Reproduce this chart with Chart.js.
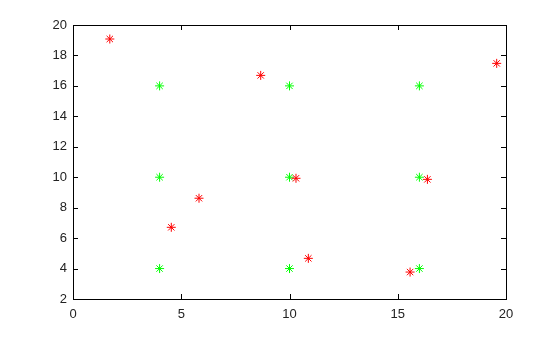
<!DOCTYPE html>
<html>
<head>
<meta charset="utf-8">
<script src="https://cdn.jsdelivr.net/npm/chart.js@4.4.1/dist/chart.umd.min.js"></script>
<style>
  html, body { margin: 0; padding: 0; background: #fff; }
  #wrap { width: 560px; height: 337px; }
</style>
</head>
<body>
<div id="wrap"><canvas id="chart" width="560" height="337"></canvas></div>
<script>
// Red points
const redX = [1.7, 8.67, 19.57, 5.82, 4.54, 10.3, 16.37, 10.87, 15.57];
const redY = [19.08, 16.69, 17.48, 8.62, 6.71, 9.93, 9.86, 4.67, 3.77];

// Green grid points
const greenX = [4, 4, 4, 10, 10, 10, 16, 16, 16];
const greenY = [4, 10, 16, 4, 10, 16, 4, 10, 16];

const xTicks = [0, 5, 10, 15, 20];
const yTicks = [2, 4, 6, 8, 10, 12, 14, 16, 18, 20];

const toPoints = (xs, ys) => xs.map((x, i) => ({ x: x, y: ys[i] }));

// Box round the plot with short inward ticks on all four sides
const framePlugin = {
    id: 'frame',
    afterDatasetsDraw(chart) {
        const ctx = chart.ctx;
        const a = chart.chartArea;
        const xs = chart.scales.x;
        const ys = chart.scales.y;
        const len = 5;
        ctx.save();
        ctx.strokeStyle = '#000';
        ctx.lineWidth = 1;
        ctx.beginPath();
        xTicks.forEach(v => {
            const px = Math.round(xs.getPixelForValue(v)) + 0.5;
            if (v === 0 || v === 20) return;
            ctx.moveTo(px, a.bottom); ctx.lineTo(px, a.bottom - len);
            ctx.moveTo(px, a.top); ctx.lineTo(px, a.top + len);
        });
        yTicks.forEach(v => {
            const py = Math.round(ys.getPixelForValue(v)) + 0.5;
            if (v === 2 || v === 20) return;
            ctx.moveTo(a.left, py); ctx.lineTo(a.left + len, py);
            ctx.moveTo(a.right, py); ctx.lineTo(a.right - len, py);
        });
        ctx.stroke();
        ctx.strokeRect(Math.round(a.left) + 0.5, Math.round(a.top) + 0.5,
            Math.round(a.right - a.left), Math.round(a.bottom - a.top));
        ctx.restore();
    }
};

const config = {
    type: 'scatter',
    data: {
        datasets: [
            {
                label: 'red',
                data: toPoints(redX, redY),
                pointStyle: 'star',
                radius: 4.5,
                borderColor: '#ff0000',
                backgroundColor: '#ff0000',
                borderWidth: 1
            },
            {
                label: 'green',
                data: toPoints(greenX, greenY),
                pointStyle: 'star',
                radius: 4.5,
                borderColor: '#00ff00',
                backgroundColor: '#00ff00',
                borderWidth: 1
            }
        ]
    },
    options: {
        responsive: false,
        animation: false,
        layout: { padding: { left: 0, right: 54, top: 25, bottom: 0 } },
        plugins: {
            legend: { display: false },
            tooltip: { enabled: false }
        },
        scales: {
            x: {
                type: 'linear',
                min: 0,
                max: 20,
                afterBuildTicks: s => { s.ticks = xTicks.map(v => ({ value: v })); },
                afterFit: s => { s.height = 38; },
                grid: { display: false, drawTicks: false },
                border: { display: false },
                ticks: {
                    color: '#222',
                    padding: 8,
                    font: { family: 'Liberation Sans', size: 13 }
                }
            },
            y: {
                type: 'linear',
                min: 2,
                max: 20,
                afterBuildTicks: s => { s.ticks = yTicks.map(v => ({ value: v })); },
                afterFit: s => { s.width = 73; },
                grid: { display: false, drawTicks: false },
                border: { display: false },
                ticks: {
                    color: '#222',
                    padding: 6,
                    font: { family: 'Liberation Sans', size: 13 }
                }
            }
        }
    },
    plugins: [framePlugin]
};

const ctx = document.getElementById("chart").getContext("2d");
new Chart(ctx, config);
</script>
</body>
</html>
